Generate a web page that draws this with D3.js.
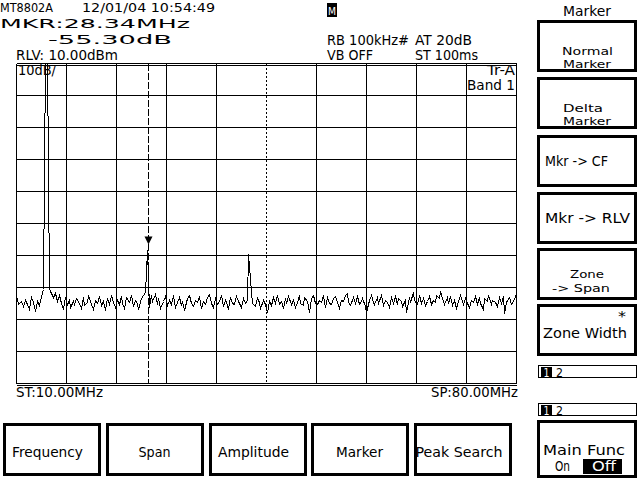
<!DOCTYPE html>
<html><head><meta charset="utf-8">
<script src="https://cdn.jsdelivr.net/npm/d3@7"></script>
<style>
html,body{margin:0;padding:0;background:#fff;}
svg{display:block;}
text{font-family:"DejaVu Sans",sans-serif;fill:#000;}
</style></head>
<body>
<script>
// ---------- data ----------
const startMHz = 10.0, stopMHz = 80.0;
const refLevel = 10, dbPerDiv = 10, divisions = 10;
const markerMHz = 28.34;
const headerLines = ["MT8802A", "12/01/04 10:54:49"];
const markerFreqText = "MKR:28.34MHz";
const markerLevelText = "-55.30dB";
const rlvText = "RLV: 10.00dBm";
const settingsText = ["RB 100kHz#", "AT 20dB", "VB OFF", "ST 100ms"];
const scaleText = "10dB/";
const traceText = ["Tr-A", "Band 1"];
const startText = "ST:10.00MHz", stopText = "SP:80.00MHz";
const bottomKeys = ["Frequency", "Span", "Amplitude", "Marker", "Peak Search"];
const sideTitle = "Marker";
// trace values in dBm, 251 points from start to stop
const traceDbm = [
 -63.4,-65.3,-64.1,-65.9,-63.8,-65.0,-66.6,-63.1,-64.4,-67.2,-64.1,-65.6,-62.8,-60.6,
 12,12,-60.2,
 -61.0,-63.1,-61.6,-64.1,-62.2,-64.7,
 -66.6,-63.1,-65.0,-63.8,-66.0,-64.1,-65.3,-63.4,-64.7,-66.3,-63.1,-65.6,-64.4,-62.5,-65.0,-66.6,-63.8,
 -64.7,-62.8,-65.6,-64.1,-66.9,-63.4,-65.0,-62.2,-64.4,-66.0,-63.8,-65.3,-62.8,-64.7,-66.3,-63.1,-64.4,-62.2,-65.9,-63.8,-64.7,-66.6,-63.4,-62.5,
 -61.3,-48.4,-66.0,
 -62.5,-64.1,-61.9,-65.3,-63.4,-66.3,-64.1,-62.8,-65.6,
 -63.8,-65.0,-62.5,-66.0,-64.4,-63.1,-65.6,-64.1,-66.9,-63.4,
 -62.2,-64.7,-65.9,-63.8,-64.4,-62.8,-66.3,-64.1,-65.0,-63.1,
 -61.9,-64.7,-66.0,-63.4,-65.3,-64.1,-62.5,-65.9,-63.8,-64.4,
 -66.6,-63.1,-64.7,-65.3,-62.8,-64.1,-66.0,-63.4,-64.7,
 -63.8,-49.4,-57.2,
 -64.7,-65.9,-63.4,-64.4,-66.3,-63.8,-65.0,
 -67.8,
 -64.1,-65.6,-63.1,-64.7,-62.5,-65.3,-64.1,-66.3,-63.4,-64.7,
 -62.8,-65.0,-63.8,-66.0,-64.4,-62.2,-64.7,-65.6,-63.1,-64.1,
 -67.8,-63.4,-62.2,-64.7,-65.3,-63.8,-64.4,-62.5,-66.0,-63.1,
 -64.7,-65.3,-63.4,-62.8,-64.4,-66.3,-63.8,-64.1,-62.5,-61.6,
 -64.4,-65.6,-63.1,-64.7,-62.8,-65.3,-64.1,-63.4,-65.9,-67.5,
 -63.8,-62.5,-64.4,-65.0,-63.1,-64.7,-62.2,-65.6,-63.8,-64.4,
 -66.0,-63.1,-64.7,-62.8,-65.3,-63.4,-64.1,-65.9,-63.8,-67.5,
 -63.1,-64.4,-61.3,-63.8,-65.0,-62.5,-64.7,-63.4,-65.6,-64.1,
 -62.8,-65.3,-63.8,-64.4,-62.2,-63.4,-61.0,-64.1,-65.0,-63.1,
 -64.7,-62.8,-65.6,-63.8,-66.3,-64.1,-62.5,-65.0,-63.4,-64.7,
 -66.0,-63.8,-64.4,-62.8,-65.3,-63.1,-64.7,-66.6,-63.4,-64.1,
 -62.5,-65.0,-63.8,-64.4,-65.9,-63.1,-64.7,-62.8,-68.0,-64.4,
 -63.1,-65.3,-64.1,-62.8,-64.7
];

// ---------- drawing ----------
const W = 640, H = 480;
const svg = d3.select("body").append("svg").attr("width", W).attr("height", H);
svg.append("rect").attr("width", W).attr("height", H).attr("fill", "#fff");

const plot = {l: 16.5, r: 516.5, t: 63.5, b: 383.5};
const x = d3.scaleLinear().domain([startMHz, stopMHz]).range([plot.l, plot.r]);
const y = d3.scaleLinear().domain([refLevel - dbPerDiv * divisions, refLevel]).range([plot.b, plot.t]);

function txt(g, tx, ty, s, size, len, opts = {}) {
  const t = g.append("text").attr("x", tx).attr("y", ty).attr("font-size", size).text(s);
  if (len) t.attr("textLength", len).attr("lengthAdjust", "spacingAndGlyphs");
  if (opts.fill) t.style("fill", opts.fill);
  if (opts.anchor) t.attr("text-anchor", opts.anchor);
  return t;
}

// grid
const grid = svg.append("g").attr("stroke", "#000").attr("stroke-width", 1).attr("shape-rendering", "crispEdges");
const freqTicks = d3.range(0, 11).map(i => startMHz + i * (stopMHz - startMHz) / 10);
const centerMHz = (startMHz + stopMHz) / 2;
grid.selectAll("line.v").data(freqTicks).join("line")
  .attr("x1", d => x(d)).attr("x2", d => x(d))
  .attr("y1", plot.t).attr("y2", plot.b)
  .attr("stroke-dasharray", d => Math.abs(d - centerMHz) < 1e-6 ? "2,2" : null);
const dbTicks = d3.range(0, divisions + 1).map(i => refLevel - i * dbPerDiv);
grid.selectAll("line.h").data(dbTicks).join("line")
  .attr("x1", plot.l).attr("x2", plot.r)
  .attr("y1", d => y(d)).attr("y2", d => y(d));
// double border lines top / bottom
grid.append("line").attr("x1", plot.l).attr("x2", plot.r).attr("y1", plot.t + 2).attr("y2", plot.t + 2);
grid.append("line").attr("x1", plot.l).attr("x2", plot.r).attr("y1", plot.b + 2).attr("y2", plot.b + 2);

// marker line (dashed)
grid.append("line").attr("x1", Math.round(x(markerMHz)) + 0.5).attr("x2", Math.round(x(markerMHz)) + 0.5)
  .attr("y1", plot.t).attr("y2", plot.b).attr("stroke-dasharray", "7,2");

// trace
svg.append("clipPath").attr("id", "clip").append("rect")
  .attr("x", plot.l).attr("y", plot.t).attr("width", plot.r - plot.l).attr("height", plot.b - plot.t);
const n = traceDbm.length;
const freqOf = i => startMHz + i * (stopMHz - startMHz) / (n - 1);
const line = d3.line().x((d, i) => Math.round(x(freqOf(i))) + 0.5).y(d => Math.round(y(d)) + 0.5);
svg.append("path").attr("clip-path", "url(#clip)").attr("d", line(traceDbm))
  .attr("fill", "none").attr("stroke", "#000").attr("stroke-width", 1)
  .attr("shape-rendering", "crispEdges");

// marker triangle
const mi = Math.round((markerMHz - startMHz) / (stopMHz - startMHz) * (n - 1));
const mx = Math.round(x(markerMHz)) + 0.5;
const peakY = y(d3.max(traceDbm.slice(mi - 1, mi + 2)));
const tipY = peakY - 6;
svg.append("path").attr("d", `M${mx - 4},${tipY - 8}L${mx + 4},${tipY - 8}L${mx},${tipY}Z`).attr("fill", "#000");

// header text
const hdr = svg.append("g");
txt(hdr, 0, 12, headerLines[0], 13, 53);
txt(hdr, 82, 12, headerLines[1], 13, 133);
txt(hdr, 0, 28, markerFreqText, 13, 190);
txt(hdr, 48, 44, markerLevelText, 13, 124);
txt(hdr, 16, 60, rlvText, 14, 102);
hdr.append("rect").attr("x", 327).attr("y", 3).attr("width", 10).attr("height", 14).attr("fill", "#000");
txt(hdr, 332, 15, "M", 11, 8, {fill: "#fff", anchor: "middle"});
txt(hdr, 327, 45, settingsText[0], 14, 82);
txt(hdr, 415, 45, settingsText[1], 14, 57);
txt(hdr, 327, 60, settingsText[2], 14, 46);
txt(hdr, 415, 60, settingsText[3], 14, 63);
txt(hdr, 18, 75, scaleText, 14, 38);
txt(hdr, 487, 75, traceText[0], 14, 28);
txt(hdr, 467, 90, traceText[1], 14, 48);
txt(hdr, 16, 397, startText, 14, 87);
txt(hdr, 431, 397, stopText, 14, 87);

// bottom soft keys
const bk = svg.append("g");
const bkText = [{x: 12, len: 71}, {x: 138.5, len: 32}, {x: 218, len: 71}, {x: 336, len: 47}, {x: 415.5, len: 87}];
bottomKeys.forEach((k, i) => {
  const bx = 3 + i * 102.8;
  bk.append("rect").attr("x", Math.round(bx) + 1.5).attr("y", 424.5).attr("width", 95).attr("height", 50)
    .attr("fill", "none").attr("stroke", "#000").attr("stroke-width", 3);
  txt(bk, bkText[i].x, 457, k, 14, bkText[i].len);
});

// side panel
const sp = svg.append("g");
txt(sp, 563, 16, sideTitle, 14, 48);
const boxTops = [20, 77, 135, 192, 248, 304];
boxTops.forEach(t => {
  sp.append("rect").attr("x", 538.5).attr("y", t + 1.5).attr("width", 97).attr("height", 49)
    .attr("fill", "none").attr("stroke", "#000").attr("stroke-width", 3);
});
txt(sp, 562, 55, "Normal", 11, 51);
txt(sp, 563, 68, "Marker", 11, 48);
txt(sp, 563, 112, "Delta", 11, 40);
txt(sp, 563, 125, "Marker", 11, 48);
txt(sp, 545, 166, "Mkr -> CF", 14, 63);
txt(sp, 545, 223, "Mkr -> RLV", 14, 85);
txt(sp, 570, 278, "Zone", 11, 34);
txt(sp, 552, 292, "-> Span", 11, 58);
txt(sp, 618, 321, "*", 14, 8);
txt(sp, 543, 338, "Zone Width", 14, 84);
[365, 403].forEach(t => {
  sp.append("rect").attr("x", 538.5).attr("y", t + 0.5).attr("width", 98).attr("height", 12)
    .attr("fill", "none").attr("stroke", "#000").attr("stroke-width", 1);
  sp.append("rect").attr("x", 541).attr("y", t + 2).attr("width", 11).attr("height", 10).attr("fill", "#000");
  txt(sp, 546.5, t + 11.5, "1", 12, 6, {fill: "#fff", anchor: "middle"});
  txt(sp, 556, t + 11.5, "2", 12, 7);
});
sp.append("rect").attr("x", 538.5).attr("y", 421.5).attr("width", 97).attr("height", 55)
  .attr("fill", "none").attr("stroke", "#000").attr("stroke-width", 3);
txt(sp, 543, 455, "Main Func", 14, 82);
txt(sp, 555, 471, "On", 14, 15);
sp.append("rect").attr("x", 583).attr("y", 459).attr("width", 39).attr("height", 15).attr("fill", "#000");
txt(sp, 592, 471, "Off", 14, 24, {fill: "#fff"});
</script>
</body></html>
